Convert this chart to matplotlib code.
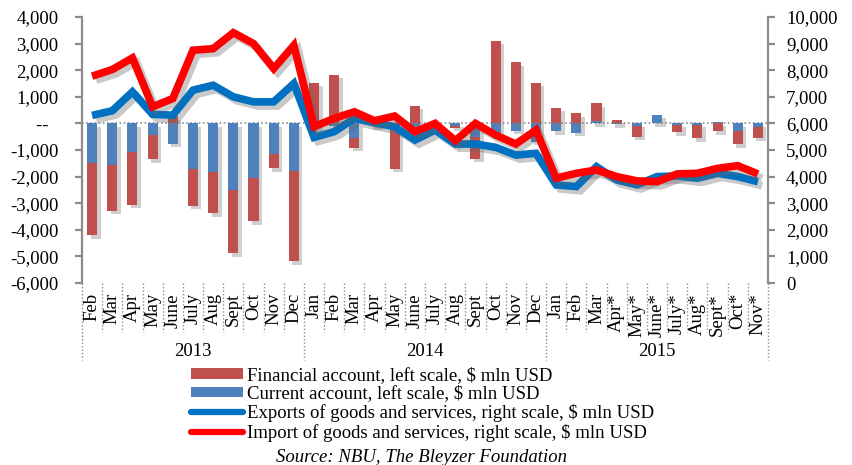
import matplotlib
matplotlib.use("Agg")
import matplotlib.pyplot as plt
import matplotlib.patheffects as pe
import matplotlib.transforms as mtransforms
from matplotlib.lines import Line2D
from matplotlib.patches import Patch
import numpy as np

plt.rcParams['font.family'] = ['Liberation Serif', 'DejaVu Serif']

months = ["Feb", "Mar", "Apr", "May", "June", "July", "Aug", "Sept", "Oct", "Nov", "Dec",
          "Jan", "Feb", "Mar", "Apr", "May", "June", "July", "Aug", "Sept", "Oct", "Nov", "Dec",
          "Jan", "Feb", "Mar", "Apr*", "May*", "June*", "July*", "Aug*", "Sept*", "Oct*", "Nov*"]
years = ["2013", "2014", "2015"]
year_counts = [11, 12, 11]

current_account = [-1500, -1580, -1075, -440, -775, -1725, -1810, -2500, -2060, -1150, -1800,
                   -200, -100, -560, -100, -100, -120, -50, -90, -500, -350, -275, -700,
                   -290, -350, 100, -30, -100, 330, -60, -50, 50, -290, -125]
financial_account = [-2700, -1700, -1990, -910, 275, -1375, -1575, -2375, -1625, -540, -3390,
                     1525, 1825, -350, 250, -1600, 670, 0, -75, -820, 3100, 2290, 1525,
                     585, 375, 650, 140, -400, 0, -280, -510, -290, -500, -415]
exports = [6300, 6475, 7185, 6340, 6310, 7250, 7435, 7000, 6810, 6810, 7500,
           5475, 5690, 6190, 6020, 5875, 5375, 5750, 5225, 5225, 5100, 4810, 4875,
           3690, 3625, 4375, 3875, 3690, 4000, 4025, 3940, 4125, 4000, 3810]
imports = [7775, 8025, 8460, 6625, 6935, 8750, 8810, 9410, 9000, 8060, 8935,
           5875, 6190, 6435, 6100, 6275, 5690, 6000, 5350, 6000, 5560, 5225, 5750,
           3940, 4125, 4250, 4000, 3840, 3810, 4100, 4125, 4310, 4410, 4100]

left_ticks = list(range(-6000, 4001, 1000))
right_ticks = list(range(0, 10001, 1000))

RED_BAR = "#C0504D"
BLUE_BAR = "#4F81BD"
EXP_LINE = "#0070C0"
IMP_LINE = "#FF0000"
GRAY = "#8C8C8C"
FS = 13.5

fig = plt.figure(figsize=(8.52, 4.65), dpi=100)
W, H = 852, 465
ax_left, ax_right, ax_top, ax_bottom = 82, 768, 17, 283
ax = fig.add_axes([ax_left / W, 1 - ax_bottom / H, (ax_right - ax_left) / W, (ax_bottom - ax_top) / H])
ax2 = ax.twinx()

x = np.arange(len(months))
ca = np.array(current_account, dtype=float)
fa = np.array(financial_account, dtype=float)
# stacking: separate positive / negative stacks (Excel style)
fa_bottom = np.where((fa >= 0) & (ca >= 0), ca, np.where((fa < 0) & (ca < 0), ca, 0))

shadow = [pe.SimplePatchShadow(offset=(2.5, -2.5), shadow_rgbFace="#777777", alpha=0.35), pe.Normal()]
bw = 0.5
b1 = ax.bar(x, ca, width=bw, color=BLUE_BAR, zorder=2)
b2 = ax.bar(x, fa, width=bw, bottom=fa_bottom, color=RED_BAR, zorder=2)
for b in list(b1) + list(b2):
    b.set_path_effects(shadow)

ax.axhline(0, color=GRAY, lw=1.2, ls=(0, (1, 1.5)), zorder=1.5)

ax.set_xlim(-0.5, len(months) - 0.5)
ax.set_ylim(-6000, 4000)
ax.set_yticks(left_ticks)
ax.set_yticklabels([("--  " if v == 0 else f"{v:,}") for v in left_ticks], fontsize=FS)
ax2.set_ylim(0, 10000)
ax2.set_yticks(right_ticks)
ax2.set_yticklabels([f"{v:,}" for v in right_ticks], fontsize=FS)

lshadow = [pe.SimpleLineShadow(offset=(3, -3), shadow_color="#666666", alpha=0.35), pe.Normal()]
ax2.plot(x, exports, color=EXP_LINE, lw=5.5, solid_joinstyle="miter", solid_capstyle="butt",
         path_effects=lshadow, zorder=3)
ax2.plot(x, imports, color=IMP_LINE, lw=5.5, solid_joinstyle="miter", solid_capstyle="butt",
         path_effects=lshadow, zorder=4)
ax.set_zorder(ax2.get_zorder() - 1)
ax2.patch.set_visible(False)

for a in (ax, ax2):
    a.spines['top'].set_visible(False)
    a.spines['bottom'].set_visible(False)
    a.set_xticks([])
ax2.spines['left'].set_visible(False)
ax.spines['right'].set_visible(False)
ax.spines['left'].set_color(GRAY)
ax.spines['left'].set_linewidth(1.6)
ax2.spines['right'].set_color(GRAY)
ax2.spines['right'].set_linewidth(1.6)
ax.tick_params(axis='y', direction='out', length=5, width=1.6, color=GRAY, pad=12)
ax2.tick_params(axis='y', direction='out', length=5, width=1.6, color=GRAY, pad=8)

# multi-level category axis
trans = mtransforms.blended_transform_factory(ax.transData, ax.transAxes)
axh = ax_bottom - ax_top
for i, m in enumerate(months):
    ax.text(i, -10 / axh, m, rotation=90, ha='center', va='top', fontsize=FS,
            transform=trans, clip_on=False)
year_bounds = np.cumsum([0] + year_counts) - 0.5
for k in range(len(months) + 1):
    xb = k - 0.5
    is_year = xb in year_bounds
    y_end = -(77 if is_year else 49) / axh
    ax.add_line(Line2D([xb, xb], [0, y_end], transform=trans, color=GRAY, lw=1.0,
                       ls=(0, (1, 1.5)), clip_on=False))
for j, yl in enumerate(years):
    xc = (year_bounds[j] + year_bounds[j + 1]) / 2
    ax.text(xc, -68 / axh, yl, ha='center', va='center', fontsize=FS, transform=trans)

handles = [Patch(facecolor=RED_BAR, edgecolor='none'),
           Patch(facecolor=BLUE_BAR, edgecolor='none'),
           Line2D([0], [0], color=EXP_LINE, lw=4.5, solid_capstyle='round'),
           Line2D([0], [0], color=IMP_LINE, lw=4.5, solid_capstyle='round')]
labels = ["Financial account, left scale, $ mln USD",
          "Current account, left scale, $ mln USD",
          "Exports of goods and services, right scale, $ mln USD",
          "Import of goods and services, right scale, $ mln USD"]
fig.legend(handles, labels, loc='upper left', bbox_to_anchor=(191 / W, 1 - 367 / H),
           frameon=False, fontsize=FS, handlelength=2.75, handleheight=0.5,
           handletextpad=0.25, labelspacing=0.08, borderaxespad=0, borderpad=0)
fig.text(421 / W, 1 - 457 / H, "Source: NBU, The Bleyzer Foundation", ha='center', va='center',
         fontsize=FS, style='italic')

fig.savefig("out.png", dpi=100)
